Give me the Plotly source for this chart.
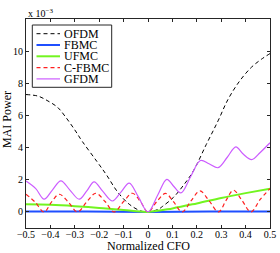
import plotly.graph_objects as go

# ---- data (values in units of 1e-3) ----
ofdm_x = [-0.5, -0.45, -0.41, -0.37, -0.34, -0.30, -0.27, -0.21, -0.17, -0.125, -0.077, -0.03, 0.0,
          0.043, 0.06, 0.104, 0.145, 0.186, 0.239, 0.287, 0.328, 0.376, 0.424, 0.465, 0.5]
ofdm_y = [7.3, 7.2, 6.9, 6.5, 5.95, 5.1, 4.4, 3.15, 2.3, 1.25, 0.48, 0.06, 0.0,
          0.17, 0.35, 0.9, 1.65, 2.55, 4.2, 5.66, 7.0, 8.15, 9.0, 9.5, 9.85]

fbmc_x = [-0.5, -0.25, 0.0, 0.25, 0.5]
fbmc_y = [0.02, 0.02, 0.0, 0.02, 0.02]

ufmc_x = [-0.5, -0.4, -0.3, -0.2, -0.1, 0.0, 0.1, 0.2, 0.3, 0.4, 0.5]
ufmc_y = [0.47, 0.44, 0.36, 0.25, 0.12, 0.0, 0.22, 0.53, 0.87, 1.17, 1.45]

cfbmc_x = [-0.5, -0.463, -0.426, -0.395, -0.364, -0.327, -0.289, -0.25, -0.214, -0.176, -0.139,
           -0.10, -0.064, -0.03, 0.0, 0.035, 0.072, 0.105, 0.14, 0.177, 0.213, 0.25, 0.289,
           0.32, 0.35, 0.385, 0.422, 0.46, 0.5]
cfbmc_y = [1.1, 0.62, 0.0, 0.62, 1.1, 0.62, 0.0, 0.65, 1.16, 0.65, 0.0,
           0.65, 1.16, 0.62, 0.0, 0.62, 1.15, 0.62, 0.0, 0.7, 1.31, 0.7, 0.0,
           0.72, 1.35, 0.72, 0.0, 0.78, 1.45]

gfdm_x = [-0.5, -0.46, -0.426, -0.392, -0.357, -0.32, -0.282, -0.25, -0.221, -0.185, -0.146,
          -0.11, -0.077, -0.04, 0.0, 0.04, 0.077, 0.105, 0.135, 0.175, 0.215, 0.25, 0.287,
          0.325, 0.36, 0.39, 0.425, 0.46, 0.5]
gfdm_y = [1.92, 1.45, 0.79, 1.36, 1.93, 1.36, 0.79, 1.33, 1.87, 1.28, 0.68,
          1.25, 1.79, 0.95, 0.0, 1.05, 2.03, 1.6, 1.18, 2.2, 3.2, 3.0, 2.75,
          3.4, 4.05, 3.6, 3.25, 3.7, 4.3]

series_names = ["OFDM", "FBMC", "UFMC", "C-FBMC", "GFDM"]

x_ticks = [-0.5, -0.4, -0.3, -0.2, -0.1, 0.0, 0.1, 0.2, 0.3, 0.4, 0.5]
x_ticklabels = ["\u22120.5", "\u22120.4", "\u22120.3", "\u22120.2", "\u22120.1", "0",
                "0.1", "0.2", "0.3", "0.4", "0.5"]
y_ticks = [0, 2, 4, 6, 8, 10]
y_ticklabels = ["0", "2", "4", "6", "8", "10"]

FONT = "Liberation Serif, Times New Roman, serif"
AX = "#262626"

styles = [
    dict(color="black", width=1, dash="4px,3px"),
    dict(color="#1f4fff", width=2, dash="solid"),
    dict(color="#72f520", width=2, dash="solid"),
    dict(color="#ff2020", width=1.2, dash="4px,3px"),
    dict(color="#cc5cff", width=1.2, dash="solid"),
]
data = [(ofdm_x, ofdm_y), (fbmc_x, fbmc_y), (ufmc_x, ufmc_y), (cfbmc_x, cfbmc_y), (gfdm_x, gfdm_y)]

fig = go.Figure()
for name, (xs, ys), st in zip(series_names, data, styles):
    fig.add_trace(go.Scatter(x=xs, y=ys, name=name, mode="lines", showlegend=False,
                             hoverinfo="skip",
                             line=dict(color=st["color"], width=st["width"], dash=st["dash"],
                                       shape="spline")))

# compact MATLAB-like legend drawn in paper coordinates
W, H, L, T = 244.0, 209.0, 26.0, 19.0
def px(xp):
    return (xp - L) / W
def py(yp):
    return (T + H - yp) / H

shapes = [dict(type="rect", xref="paper", yref="paper",
               x0=px(32.3), x1=px(111.7), y0=py(87.3), y1=py(25),
               line=dict(color=AX, width=1), fillcolor="white", layer="above")]
annotations = []
for i, (name, st) in enumerate(zip(series_names, styles)):
    yy = py(33.7 + 11.3 * i)
    shapes.append(dict(type="line", xref="paper", yref="paper",
                       x0=px(36.5), x1=px(60), y0=yy, y1=yy, layer="above",
                       line=dict(color=st["color"], width=st["width"], dash=st["dash"])))
    annotations.append(dict(text=name, xref="paper", yref="paper", x=px(61.5), y=yy,
                            xanchor="left", yanchor="middle", showarrow=False,
                            font=dict(family=FONT, size=12, color="black")))

annotations.append(dict(text="x 10<sup>\u22123</sup>", xref="paper", yref="paper",
                        x=px(26), y=py(13), xanchor="left", yanchor="middle",
                        showarrow=False, font=dict(family=FONT, size=10, color="black")))
annotations.append(dict(text="Normalized CFO", xref="paper", yref="paper",
                        x=px(148), y=py(246), xanchor="center", yanchor="middle",
                        showarrow=False, font=dict(family=FONT, size=12, color="black")))
annotations.append(dict(text="MAI Power", xref="paper", yref="paper", textangle=-90,
                        x=px(7), y=py(120), xanchor="center", yanchor="middle",
                        showarrow=False, font=dict(family=FONT, size=12, color="black")))

fig.update_layout(
    width=280, height=253,
    margin=dict(l=26, r=10, t=19, b=25),
    paper_bgcolor="white", plot_bgcolor="white",
    font=dict(family=FONT, size=10, color="black"),
    showlegend=False,
    hovermode=False,
    xaxis=dict(range=[-0.5, 0.5], tickvals=x_ticks, ticktext=x_ticklabels, automargin=False,
               ticks="inside", ticklen=3, tickcolor=AX, showline=True, linecolor=AX,
               linewidth=1, mirror="ticks", showgrid=False, zeroline=False,
               tickfont=dict(family=FONT, size=10)),
    yaxis=dict(range=[-1, 12], tickvals=y_ticks, ticktext=y_ticklabels, automargin=False,
               ticks="inside", ticklen=3, tickcolor=AX, showline=True, linecolor=AX,
               linewidth=1, mirror="ticks", showgrid=False, zeroline=False,
               tickfont=dict(family=FONT, size=10)),
    shapes=shapes,
    annotations=annotations,
)
try:
    fig.update_xaxes(ticklabelstandoff=-3)
except Exception:
    pass

fig.write_html("out.html", config={"displayModeBar": False, "staticPlot": True},
               post_script="document.body.style.margin='0';document.body.style.padding='0';")
